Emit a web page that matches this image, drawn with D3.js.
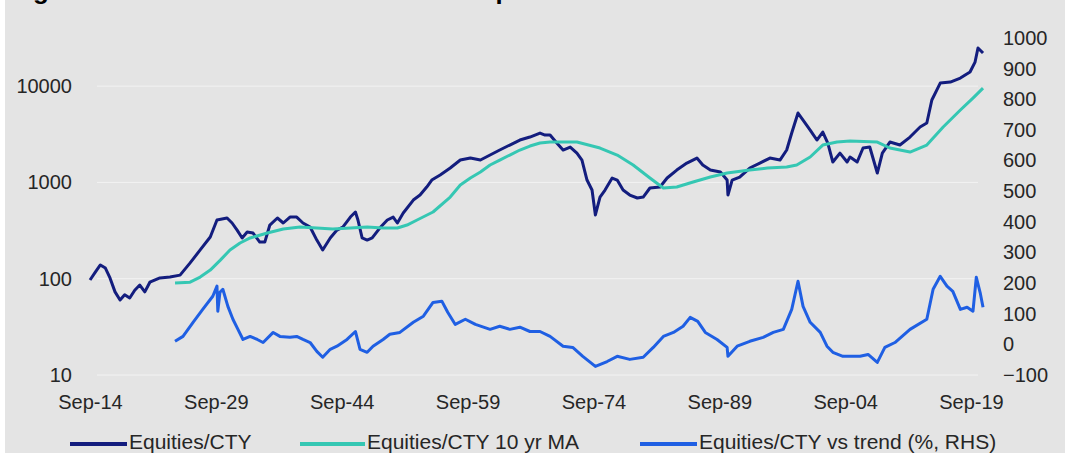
<!DOCTYPE html>
<html>
<head>
<meta charset="utf-8">
<script src="https://cdn.jsdelivr.net/npm/d3@7"></script>
<style>
  html, body { margin: 0; padding: 0; background: #ffffff; }
  svg { display: block; font-family: "Liberation Sans", Arial, sans-serif; }
</style>
</head>
<body>
<svg id="chart" width="1065" height="453"></svg>
<script>
// Equities/CTY ratio (log scale, left axis): [decimal year, value]
const ratio = [
  [1914.67, 97], [1915.3, 117], [1915.9, 139], [1916.5, 129], [1917.05, 102],
  [1917.65, 73], [1918.25, 60], [1918.8, 68], [1919.4, 63], [1920.0, 76],
  [1920.6, 86], [1921.2, 73], [1921.8, 92], [1923.0, 102], [1924.2, 104],
  [1925.4, 109], [1926.6, 146], [1927.8, 199], [1929.0, 271], [1929.8, 407],
  [1931.0, 427], [1931.6, 379], [1932.2, 320], [1932.8, 265], [1933.4, 305],
  [1934.1, 298], [1934.9, 240], [1935.5, 240], [1936.1, 361], [1937.0, 427],
  [1937.7, 379], [1938.5, 437], [1939.3, 437], [1940.05, 379], [1940.9, 344],
  [1941.7, 252], [1942.4, 199], [1943.3, 265], [1944.1, 320], [1944.8, 344],
  [1945.7, 437], [1946.3, 493], [1946.6, 407], [1947.1, 265], [1947.7, 252],
  [1948.3, 265], [1949.2, 336], [1950.1, 407], [1950.8, 437], [1951.3, 379],
  [1952.0, 481], [1953.2, 656], [1954.0, 740], [1954.8, 896], [1955.4, 1059],
  [1956.4, 1194], [1957.6, 1411], [1958.8, 1708], [1960.0, 1792], [1961.2, 1708],
  [1962.35, 1925], [1963.5, 2170], [1964.7, 2445], [1965.9, 2756], [1967.1, 2960],
  [1968.3, 3258], [1968.9, 3107], [1969.5, 3107], [1970.3, 2566], [1971.05, 2170],
  [1971.9, 2331], [1972.7, 2018], [1973.3, 1708], [1973.9, 1059], [1974.5, 834],
  [1974.9, 459], [1975.45, 705], [1976.05, 834], [1976.9, 1111], [1977.5, 1059],
  [1978.2, 834], [1979.0, 740], [1979.9, 689], [1980.6, 705], [1981.4, 875],
  [1982.6, 896], [1983.45, 1111], [1984.6, 1345], [1985.8, 1590], [1987.0, 1792],
  [1987.7, 1516], [1988.6, 1345], [1989.8, 1282], [1990.6, 1059], [1990.7, 740],
  [1991.2, 1059], [1992.1, 1138], [1993.3, 1411], [1994.5, 1590], [1995.7, 1792],
  [1996.9, 1708], [1997.7, 2170], [1998.3, 3258], [1999.05, 5257], [1999.65, 4446],
  [2000.5, 3500], [2001.3, 2756], [2002.0, 3338], [2002.6, 2566], [2003.2, 1629],
  [2004.05, 2018], [2004.9, 1629], [2005.25, 1836], [2006.1, 1629], [2006.8, 2277],
  [2007.6, 2331], [2008.5, 1252], [2009.1, 2018], [2010.0, 2627], [2011.2, 2445],
  [2012.4, 2960], [2013.6, 3760], [2014.4, 4138], [2015.0, 7173], [2016.0, 10770],
  [2017.2, 11030], [2018.4, 12140], [2019.55, 14010], [2020.15, 17790], [2020.5, 24870],
  [2021.1, 22070]
];

// 10-year moving average of the ratio (left axis)
const movingAvg = [
  [1924.8, 90], [1926.6, 92], [1927.8, 104], [1929.0, 123], [1930.2, 156],
  [1931.35, 199], [1932.55, 235], [1933.75, 265], [1935.8, 298], [1937.7, 328],
  [1939.7, 344], [1941.7, 336], [1943.6, 328], [1945.7, 336], [1947.7, 344],
  [1949.6, 336], [1951.3, 336], [1952.45, 361], [1953.65, 407], [1955.55, 493],
  [1957.6, 705], [1958.8, 940], [1960.0, 1111], [1961.2, 1282], [1962.35, 1516],
  [1963.5, 1708], [1964.7, 1925], [1965.9, 2170], [1967.1, 2388], [1968.3, 2566],
  [1969.5, 2627], [1972.7, 2627], [1975.45, 2277], [1977.5, 1925], [1979.4, 1516],
  [1981.4, 1111], [1983.0, 875], [1984.6, 896], [1986.55, 1009], [1988.6, 1138],
  [1990.6, 1252], [1993.3, 1345], [1995.4, 1411], [1997.7, 1445], [1998.9, 1516],
  [2000.5, 1836], [2002.0, 2445], [2003.7, 2627], [2005.25, 2690], [2008.5, 2627],
  [2010.0, 2277], [2012.4, 2069], [2014.4, 2445], [2016.35, 3760], [2018.4, 5646],
  [2019.9, 7520], [2021.1, 9550]
];

// Deviation of the ratio from its trend, % (right axis)
const vsTrend = [
  [1924.8, 10], [1925.75, 26], [1926.95, 72], [1928.1, 114], [1929.3, 157],
  [1929.8, 190], [1929.9, 108], [1930.15, 170], [1930.5, 180], [1931.1, 124],
  [1931.7, 82], [1932.3, 49], [1932.9, 16], [1933.75, 26], [1934.6, 16],
  [1935.3, 6], [1936.5, 39], [1937.3, 26], [1938.5, 23], [1939.3, 26],
  [1940.05, 16], [1940.9, 6], [1941.7, -23], [1942.4, -42], [1943.3, -16],
  [1944.1, -6], [1945.3, 16], [1946.3, 42], [1946.85, -16], [1947.7, -26],
  [1948.4, -6], [1949.6, 16], [1950.4, 33], [1951.6, 39], [1953.2, 72],
  [1954.4, 92], [1955.55, 137], [1956.6, 141], [1957.3, 105], [1958.2, 65],
  [1959.4, 82], [1960.6, 65], [1962.35, 49], [1963.5, 59], [1964.7, 49],
  [1965.9, 56], [1967.1, 42], [1968.3, 42], [1969.5, 26], [1971.05, -6],
  [1972.2, -10], [1973.4, -39], [1974.9, -72], [1976.3, -56], [1977.5, -39],
  [1979.0, -49], [1980.6, -42], [1981.8, -10], [1983.0, 26], [1984.2, 39],
  [1985.35, 59], [1986.2, 88], [1987.1, 75], [1988.0, 39], [1989.4, 16],
  [1990.6, -10], [1990.7, -39], [1991.8, -6], [1993.3, 10], [1994.9, 23],
  [1996.1, 39], [1997.3, 49], [1998.3, 114], [1999.05, 206], [1999.65, 124],
  [2000.5, 72], [2001.7, 39], [2002.5, -6], [2003.2, -26], [2004.4, -39],
  [2005.25, -39], [2006.45, -39], [2007.4, -33], [2008.5, -59], [2009.4, -10],
  [2010.6, 6], [2012.4, 49], [2014.4, 82], [2015.15, 180], [2016.0, 222],
  [2016.8, 190], [2017.5, 173], [2018.4, 114], [2019.2, 121], [2019.9, 108],
  [2020.3, 219], [2020.75, 170], [2021.1, 121]
];

// Axis ticks and labels
const xTickYears = [1914, 1929, 1944, 1959, 1974, 1989, 2004, 2019];
const leftTicks = [10, 100, 1000, 10000];
const rightTicks = [-100, 0, 100, 200, 300, 400, 500, 600, 700, 800, 900, 1000];

const seriesNames = ["Equities/CTY", "Equities/CTY 10 yr MA", "Equities/CTY vs trend (%, RHS)"];
const seriesColors = ["#131d7e", "#35c7b3", "#1f5fe3"];
const titleText = "Figure 6: Commodities relative to US equities since 1914";

const svg = d3.select("#chart");

// background panel
svg.append("rect").attr("x", 5).attr("y", 0).attr("width", 1060).attr("height", 453).attr("fill", "#e4e4e4");

// title; it sits above the panel so only its lowest strokes show
svg.append("text").attr("x", 10).attr("y", -1)
  .attr("font-size", 26).attr("font-weight", "bold").attr("fill", "#000")
  .text(titleText);

const sep = y => y + 8 / 12; // September of a given year
const x = d3.scaleLinear().domain([sep(1914), sep(2019)]).range([90, 971]);
const yL = d3.scaleLog().domain([10, Math.pow(10, 4.5)]).range([375, 38]);
const yR = d3.scaleLinear().domain([-100, 1000]).range([375, 38]);

// horizontal gridlines at the log decades
svg.append("g").selectAll("line").data(leftTicks).join("line")
  .attr("x1", 97).attr("x2", 978)
  .attr("y1", d => yL(d)).attr("y2", d => yL(d))
  .attr("stroke", "#f3f3f3").attr("stroke-width", 1);

const styleAxis = g => {
  g.select(".domain").remove();
  g.selectAll("text").attr("font-size", 20).attr("fill", "#262626")
    .attr("font-family", "'Liberation Sans', Arial, sans-serif");
};

svg.append("g").attr("transform", "translate(90,0)")
  .call(d3.axisLeft(yL).tickValues(leftTicks).tickFormat(d3.format("d")).tickSize(0).tickPadding(18))
  .call(styleAxis);

svg.append("g").attr("transform", "translate(985,0)")
  .call(d3.axisRight(yR).tickValues(rightTicks).tickFormat(d3.format("d")).tickSize(0).tickPadding(18))
  .call(styleAxis);

svg.append("g").attr("transform", "translate(0,375)")
  .call(d3.axisBottom(x).tickValues(xTickYears.map(sep))
    .tickFormat(d => "Sep-" + String(Math.floor(d) % 100).padStart(2, "0"))
    .tickSize(0).tickPadding(20))
  .call(styleAxis);

// series lines
const lineL = d3.line().x(d => x(d[0])).y(d => yL(d[1]));
const lineR = d3.line().x(d => x(d[0])).y(d => yR(d[1]));

svg.append("path").datum(vsTrend).attr("d", lineR)
  .attr("fill", "none").attr("stroke", seriesColors[2]).attr("stroke-width", 3).attr("stroke-linejoin", "round");
svg.append("path").datum(ratio).attr("d", lineL)
  .attr("fill", "none").attr("stroke", seriesColors[0]).attr("stroke-width", 3).attr("stroke-linejoin", "round");
svg.append("path").datum(movingAvg).attr("d", lineL)
  .attr("fill", "none").attr("stroke", seriesColors[1]).attr("stroke-width", 3).attr("stroke-linejoin", "round");

// legend
const legendPos = [{x1: 70, x2: 127}, {x1: 300, x2: 365}, {x1: 640, x2: 697}];
const leg = svg.append("g").selectAll("g").data(seriesNames).join("g");
leg.append("line")
  .attr("x1", (d, i) => legendPos[i].x1).attr("x2", (d, i) => legendPos[i].x2)
  .attr("y1", 444).attr("y2", 444)
  .attr("stroke", (d, i) => seriesColors[i]).attr("stroke-width", 4);
leg.append("text")
  .attr("x", (d, i) => legendPos[i].x2 + 2).attr("y", 442).attr("dy", "0.35em")
  .attr("font-size", 21).attr("fill", "#262626")
  .text(d => d);
</script>
</body>
</html>
